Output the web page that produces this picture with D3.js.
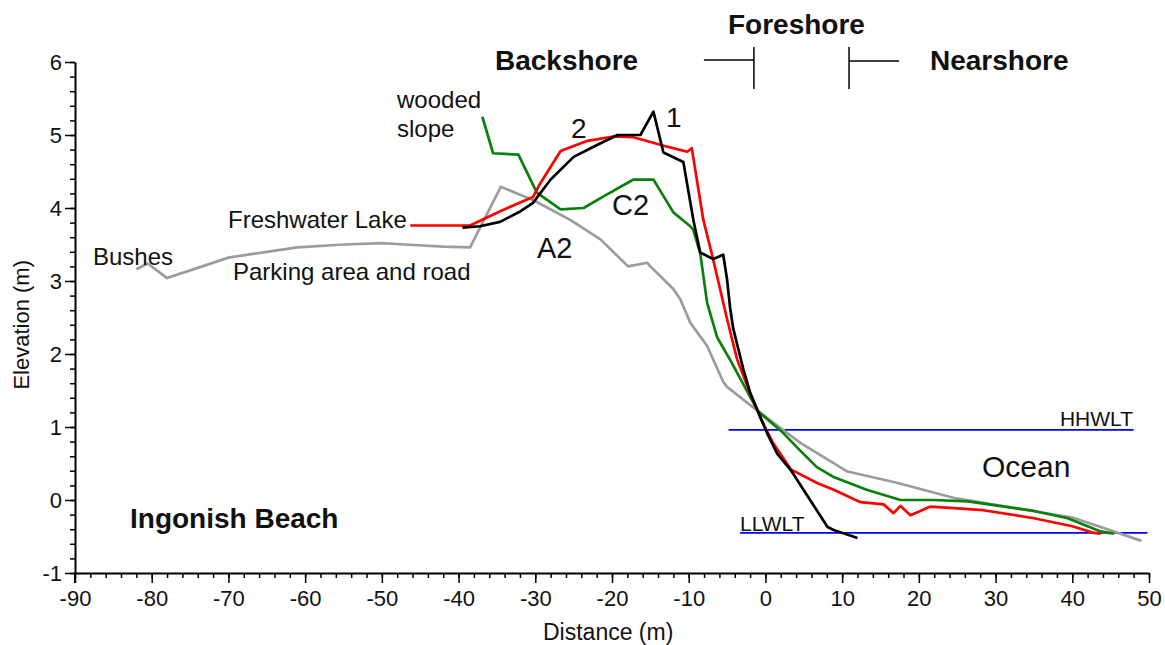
<!DOCTYPE html>
<html>
<head>
<meta charset="utf-8">
<script src="https://cdn.jsdelivr.net/npm/d3@7"></script>
<style>
  html, body { margin: 0; padding: 0; background: #fff; }
  svg { display: block; font-family: "Liberation Sans", Arial, sans-serif; }
</style>
</head>
<body>
<svg id="chart" width="1165" height="645"></svg>
<script>
// ---------- DATA (distance m, elevation m) ----------
const profileA2 = [[-82,3.16],[-80.5,3.24],[-78,3.04],[-74,3.18],[-70,3.32],[-65,3.40],[-61,3.46],[-55,3.50],[-50,3.52],[-47,3.50],[-42,3.47],[-38.5,3.46],[-34.5,4.29],[-30.3,4.11],[-25.5,3.84],[-21.5,3.57],[-17.9,3.20],[-15.4,3.25],[-15,3.20],[-12,2.89],[-11.1,2.75],[-9.8,2.43],[-7.6,2.11],[-5.5,1.62],[-5,1.55],[-1,1.22],[4.6,0.78],[10.7,0.39],[17,0.24],[24.5,0.03],[32,-0.10],[40,-0.24],[44,-0.38],[49,-0.56]];
const profile2 = [[-46.3,3.76],[-38.5,3.76],[-34.5,3.96],[-30.3,4.15],[-29.4,4.33],[-26.7,4.78],[-23.2,4.92],[-19.8,4.98],[-17.2,4.97],[-12.8,4.84],[-10.2,4.77],[-9.6,4.82],[-8.1,3.84],[-6.8,3.29],[-5,2.48],[-3.7,1.93],[-2.4,1.57],[-1,1.22],[-0.6,1.11],[1,0.78],[3.3,0.42],[6.8,0.23],[8.9,0.14],[12.4,-0.03],[15.4,-0.06],[16.7,-0.18],[17.6,-0.08],[18.9,-0.21],[21.5,-0.09],[28.4,-0.14],[35,-0.25],[40,-0.36],[42.8,-0.45],[43.7,-0.46]];
const profile1 = [[-39.5,3.73],[-37.2,3.75],[-34.6,3.81],[-32,3.95],[-30.3,4.07],[-28,4.39],[-25,4.70],[-22.4,4.84],[-19.3,5.0],[-16.3,5.0],[-14.6,5.32],[-13.3,4.76],[-10.7,4.63],[-9.4,3.84],[-8.5,3.39],[-6.8,3.30],[-5.5,3.36],[-5,3.02],[-4.6,2.63],[-4.2,2.35],[-2.9,1.80],[-2,1.47],[-1,1.22],[0.2,0.92],[1.5,0.64],[3.3,0.41],[8.1,-0.37],[8.9,-0.41],[12,-0.52]];
const profileC2 = [[-36.9,5.25],[-35.5,4.75],[-32.2,4.73],[-29.8,4.21],[-26.7,3.98],[-23.7,4.0],[-21.1,4.16],[-17.2,4.39],[-14.6,4.39],[-12,3.94],[-9.8,3.75],[-9.4,3.70],[-8.5,3.38],[-7.6,2.70],[-6.3,2.23],[-4.6,1.92],[-1,1.22],[2.3,0.92],[4.5,0.68],[6.7,0.45],[8.8,0.32],[13.2,0.14],[17.6,0.0],[21.9,0.0],[26.4,-0.02],[35,-0.15],[39.4,-0.25],[43.7,-0.43],[45.4,-0.46]];
const hhwlt = [[-4.8,0.96],[48,0.96]];
const llwlt = [[-3.3,-0.45],[49.8,-0.45]];
const xTicks = [-90,-80,-70,-60,-50,-40,-30,-20,-10,0,10,20,30,40,50];
const yTicks = [-1,0,1,2,3,4,5,6];
const zoneMarks = [-1.5, 10.9];

// ---------- LAYOUT ----------
const svg = d3.select("#chart");
const x = d3.scaleLinear().domain([-90, 50]).range([75, 1149]);
const y = d3.scaleLinear().domain([-1, 6]).range([573, 62]);

const xMinor = d3.range(-90, 50.01, 2);
const yMinor = d3.range(-1, 6.01, 0.2);
const fmt = d => String(d);

// minor ticks
svg.append("g").attr("transform", "translate(0,573)")
  .call(d3.axisBottom(x).tickValues(xMinor).tickSize(5).tickFormat(""))
  .call(g => g.select(".domain").remove())
  .selectAll("line").attr("stroke", "#000").attr("stroke-width", 1.5);
svg.append("g").attr("transform", "translate(75,0)")
  .call(d3.axisLeft(y).tickValues(yMinor).tickSize(5).tickFormat(""))
  .call(g => g.select(".domain").remove())
  .selectAll("line").attr("stroke", "#000").attr("stroke-width", 1.5);

// major axes
const xAxis = svg.append("g").attr("transform", "translate(0,573)")
  .call(d3.axisBottom(x).tickValues(xTicks).tickSize(10).tickSizeOuter(0).tickPadding(7).tickFormat(fmt));
const yAxis = svg.append("g").attr("transform", "translate(75,0)")
  .call(d3.axisLeft(y).tickValues(yTicks).tickSize(10).tickSizeOuter(0).tickPadding(3).tickFormat(fmt));
[xAxis, yAxis].forEach(g => {
  g.select(".domain").attr("stroke", "#000").attr("stroke-width", 2);
  g.selectAll(".tick line").attr("stroke", "#000").attr("stroke-width", 1.5);
  g.selectAll(".tick text").attr("fill", "#111").style("font-size", "22px")
    .style("font-family", '"Liberation Sans", Arial, sans-serif');
});
// extend y axis slightly below x axis
svg.append("line").attr("x1", x(-90)).attr("x2", x(-90)).attr("y1", y(-1)).attr("y2", y(-1) + 10)
  .attr("stroke", "#000").attr("stroke-width", 2);

// axis titles
svg.append("text").attr("x", x(-20.5)).attr("y", 640).attr("text-anchor", "middle")
  .style("font-size", "23px").attr("fill", "#111").text("Distance (m)");
svg.append("text").attr("transform", "translate(29," + y(2.4) + ") rotate(-90)")
  .attr("text-anchor", "middle").style("font-size", "22px").attr("fill", "#111").text("Elevation (m)");

// water level lines
const line = d3.line().x(d => x(d[0])).y(d => y(d[1]));
[hhwlt, llwlt].forEach(d => {
  svg.append("path").datum(d).attr("d", line).attr("fill", "none")
    .attr("stroke", "#0000ff").attr("stroke-width", 1.6);
});

// profiles
const series = [
  { data: profileA2, color: "#9c9c9c" },
  { data: profileC2, color: "#0a800a" },
  { data: profile2,  color: "#ff0000" },
  { data: profile1,  color: "#000000" }
];
series.forEach(s => {
  svg.append("path").datum(s.data).attr("d", line).attr("fill", "none")
    .attr("stroke", s.color).attr("stroke-width", 2.7).attr("stroke-linejoin", "round");
});

// zone brackets
const topY = 47, botY = 89, armY = 60;
svg.append("line").attr("x1", x(zoneMarks[0]) - 50).attr("x2", x(zoneMarks[0])).attr("y1", armY).attr("y2", armY).attr("stroke", "#000").attr("stroke-width", 1.5);
svg.append("line").attr("x1", x(zoneMarks[0])).attr("x2", x(zoneMarks[0])).attr("y1", topY).attr("y2", botY).attr("stroke", "#000").attr("stroke-width", 1.5);
svg.append("line").attr("x1", x(zoneMarks[1])).attr("x2", x(zoneMarks[1]) + 50).attr("y1", armY + 1).attr("y2", armY + 1).attr("stroke", "#000").attr("stroke-width", 1.5);
svg.append("line").attr("x1", x(zoneMarks[1])).attr("x2", x(zoneMarks[1])).attr("y1", topY).attr("y2", botY).attr("stroke", "#000").attr("stroke-width", 1.5);

// annotations
function label(txt, px, py, size, weight, anchor) {
  svg.append("text").attr("x", px).attr("y", py).attr("text-anchor", anchor || "start")
    .style("font-size", size + "px").style("font-weight", weight || "normal")
    .attr("fill", "#111").text(txt);
}
label("Backshore", 495, 70, 28, "bold");
label("Foreshore", 728, 34, 28, "bold");
label("Nearshore", 930, 70, 28, "bold");
label("Ingonish Beach", 130, 528, 28, "bold");
label("Ocean", 982, 477, 30);
label("wooded", 397, 108, 24);
label("slope", 397, 137, 24);
label("Freshwater Lake", 228, 228, 24);
label("Bushes", 93, 265, 24);
label("Parking area and road", 233, 280, 24);
label("2", 571, 138, 28);
label("1", 666, 127, 28);
label("C2", 612, 215, 29);
label("A2", 537, 258, 29);
label("HHWLT", 1133, 426, 21, "normal", "end");
label("LLWLT", 740, 531, 21);
</script>
</body>
</html>
